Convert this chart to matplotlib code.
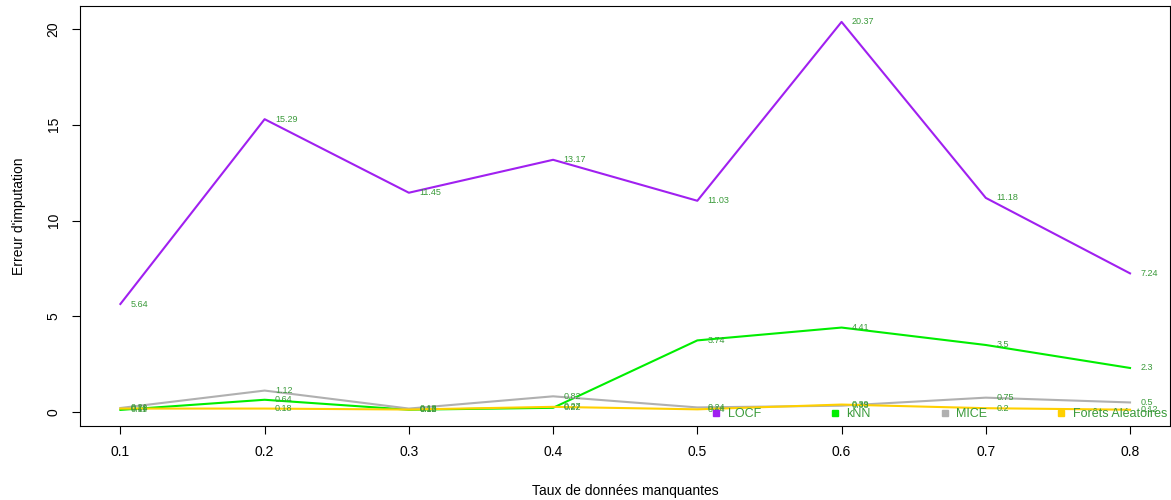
import matplotlib
matplotlib.use("Agg")
import matplotlib.pyplot as plt
from matplotlib.lines import Line2D

plt.rcParams['font.family'] = ['Liberation Sans', 'DejaVu Sans']

taux = [0.1, 0.2, 0.3, 0.4, 0.5, 0.6, 0.7, 0.8]
locf = [5.64, 15.29, 11.45, 13.17, 11.03, 20.37, 11.18, 7.24]
knn = [0.11, 0.64, 0.12, 0.22, 3.74, 4.41, 3.5, 2.3]
mice = [0.21, 1.12, 0.18, 0.82, 0.24, 0.33, 0.75, 0.5]
rf = [0.18, 0.18, 0.13, 0.27, 0.14, 0.39, 0.2, 0.12]

series = [("LOCF", locf, "#A020F0"),
          ("kNN", knn, "#00EE00"),
          ("MICE", mice, "#B0B0B0"),
          ("Forêts Aléatoires", rf, "#FFD000")]
label_color = "#3A9A3A"

fig = plt.figure(figsize=(11.71, 5.0), dpi=100)
ax = fig.add_axes([80/1171, 74/500, 1 - 80/1171 - 0.0005, 420/500])

for name, vals, col in series:
    ax.plot(taux, vals, color=col, lw=1.5)
for name, vals, col in series:
    for x, v in zip(taux, vals):
        ax.annotate(f"{v:g}", (x, v), xytext=(7.5, 0), textcoords="offset points",
                    fontsize=6.5, color=label_color, va="center", ha="left")

ax.set_xlim(0.072, 0.828)
ax.set_ylim(-0.73, 21.2)
ax.set_xticks(taux)
ax.set_xticklabels([f"{t:g}" for t in taux])
ax.set_yticks([0, 5, 10, 15, 20])
ax.tick_params(axis='both', labelsize=10, length=6, width=0.8, pad=8)
for lab in ax.get_yticklabels():
    lab.set_rotation(90)
    lab.set_va("center")
for sp in ax.spines.values():
    sp.set_linewidth(0.8)
ax.set_xlabel("Taux de données manquantes", fontsize=10, labelpad=18)
ax.set_ylabel("Erreur d'imputation", fontsize=10, labelpad=15)

handles = [Line2D([], [], linestyle="none", marker="s", markersize=4,
                  color=col, markeredgecolor=col) for _, _, col in series]
leg = ax.legend(handles, [s[0] for s in series], ncol=4, frameon=False,
                loc="lower left", bbox_to_anchor=(0.575, 0.002),
                fontsize=9, labelcolor=label_color, handlelength=0.6,
                handletextpad=0.65, columnspacing=5.6, borderaxespad=0)

fig.savefig("out.png", dpi=100)
